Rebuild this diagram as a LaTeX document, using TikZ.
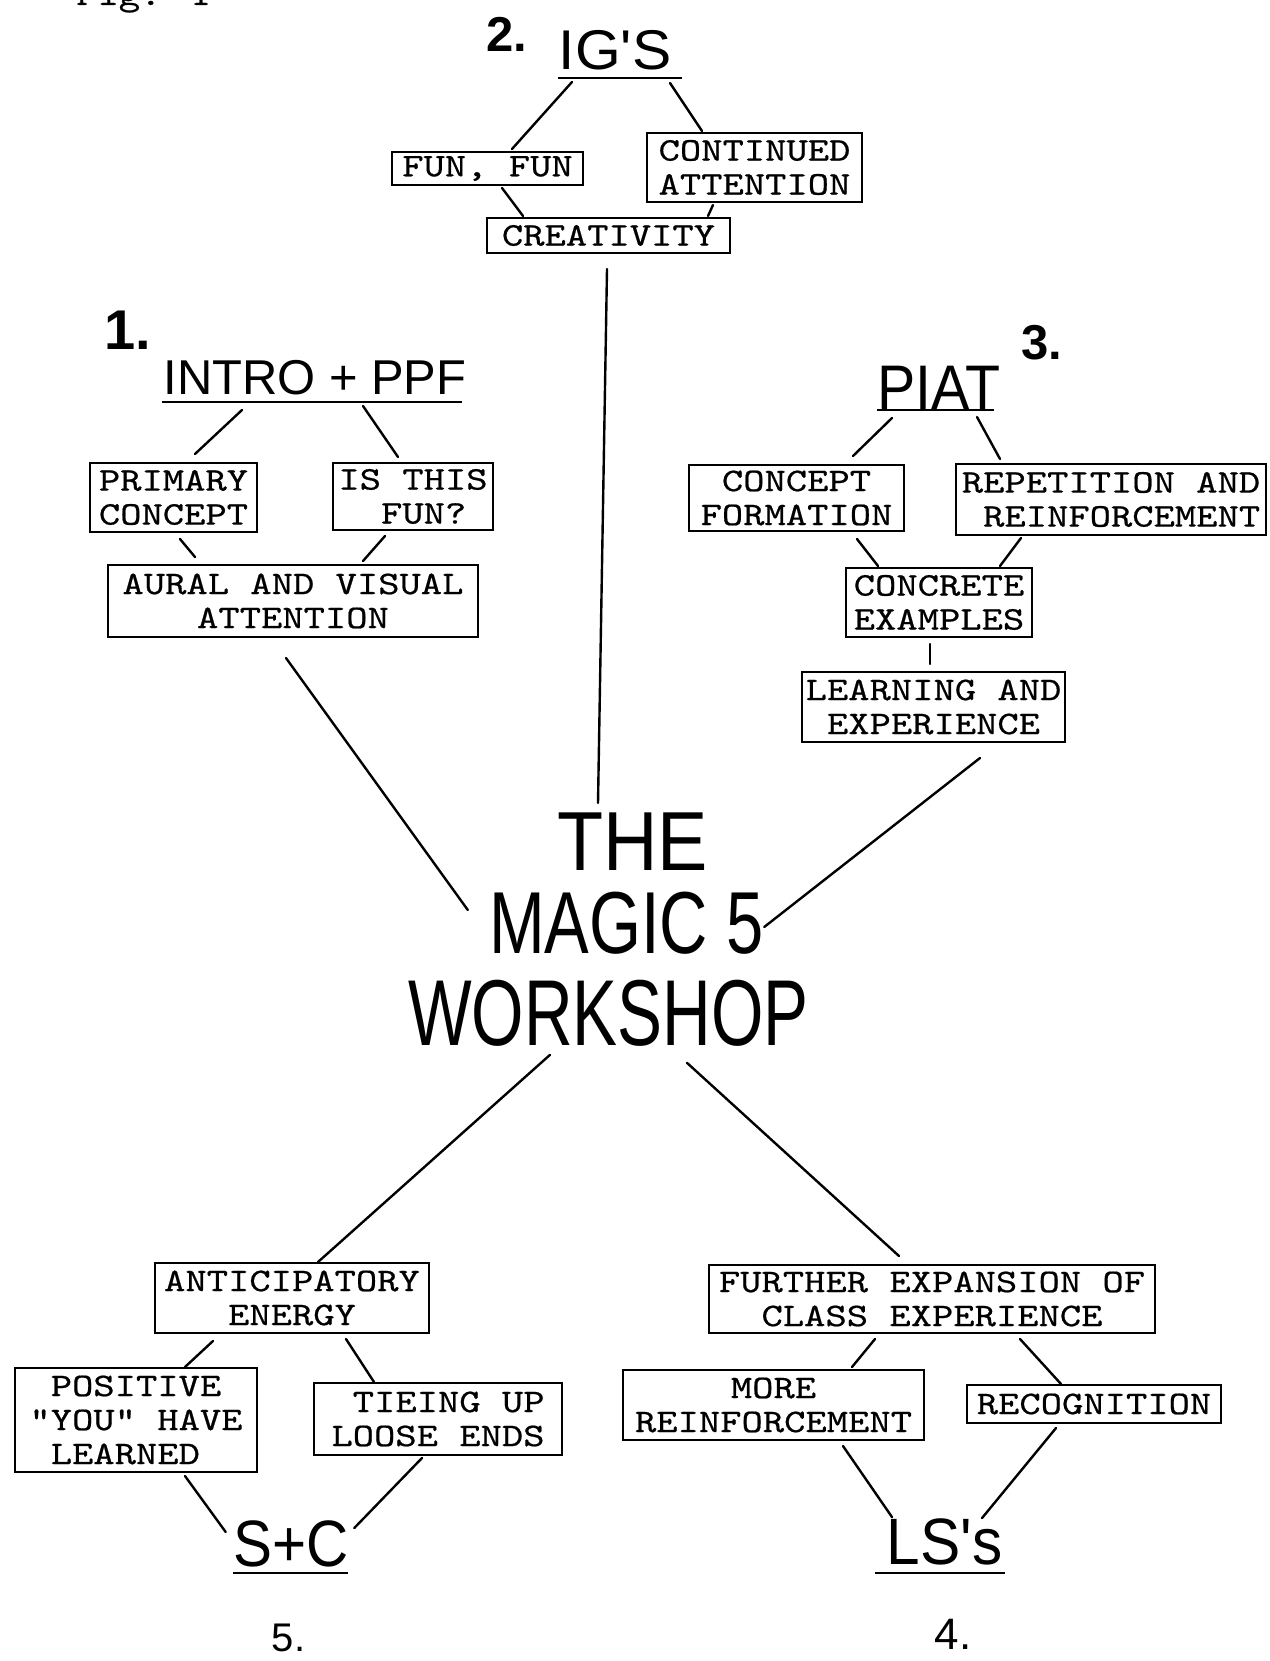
\documentclass[tikz,border=0pt]{standalone}
\usepackage{fontspec}
\usepackage{graphicx}
\usetikzlibrary{calc}
\newfontfamily\tw{lmmono10-regular}[Extension=.otf, FakeStretch=1.23, FakeBold=0.6]
\newfontfamily\hand{Liberation Sans}
\newcommand\hw[3]{{\fontsize{#1}{#1}\hand\scalebox{#2}[1]{#3}}}
\newcommand\hwb[3]{{\fontsize{#1}{#1}\hand\bfseries\scalebox{#2}[1]{#3}}}
\tikzset{
  tbox/.style={draw, line width=2pt, inner sep=0pt, align=center, font=\fontsize{33}{34}\tw},
  conn/.style={line width=2.4pt, line cap=round},
  bar/.style={line width=2.6pt},
  title/.style={inner sep=0pt, anchor=center},
}
\begin{document}
\begin{tikzpicture}[x=1pt,y=-1pt]
\useasboundingbox[fill=white] (0,0) rectangle (1269,1661);

% figure caption (cut at top, as in the reference)
\node[anchor=base west, inner sep=0pt, font=\fontsize{33}{34}\tw] (fig) at (76,5) {Fig. 1};

% ---------- section 2 ----------
\node[title] (n2) at (506.5,34.5) {\hwb{49}{1}{2.}};
\node[title] (ig) at (615,50) {\hw{56}{1.05}{IG'S}};
\coordinate (igL) at (558,78);
\coordinate (igR) at (682,78);
\draw[bar] (igL) -- (igR);
\node[tbox, minimum width=191pt, minimum height=33pt] (funfun) at (487.5,168.5) {FUN, FUN};
\node[tbox, minimum width=215pt, minimum height=69pt] (contatt) at (754.5,167.5) {CONTINUED\\ATTENTION};
\node[tbox, minimum width=243pt, minimum height=35pt] (creat) at (608.5,235.5) {CREATIVITY};
\draw[conn] ($(igL)+(14,4)$) -- ($(funfun.north)+(24.5,-2)$);
\draw[conn] ($(igR)+(-12,5)$) -- ($(contatt.north)+(-52.5,-1)$);
\draw[conn] ($(funfun.south)+(14.5,2)$) -- ($(creat.north)+(-85.5,-1)$);
\draw[conn] ($(contatt.south)+(-41.5,2)$) -- ($(creat.north)+(99.5,-1)$);

% ---------- section 1 ----------
\node[title] (n1) at (127.5,330) {\hwb{56}{1}{1.}};
\node[title] (intro) at (315,377.5) {\hw{48.9}{1}{INTRO + PPF}};
\coordinate (introL) at (162,402);
\coordinate (introR) at (462,402);
\draw[bar] (introL) -- (introR);
\node[tbox, minimum width=167pt, minimum height=69pt] (primary) at (173.5,497.5) {PRIMARY\\CONCEPT};
\node[tbox, minimum width=160pt, minimum height=67pt, align=left] (isthis) at (413,496.5) {IS THIS\\\hphantom{IS}FUN?};
\node[tbox, minimum width=370pt, minimum height=72pt] (aural) at (293,601) {AURAL AND VISUAL\\ATTENTION};
\draw[conn] ($(introL)+(80,8)$) -- ($(primary.north)+(21.5,-8)$);
\draw[conn] ($(introL)+(201,4)$) -- ($(isthis.north)+(-15,-5)$);
\draw[conn] ($(primary.south)+(6.5,6)$) -- ($(aural.north)+(-98,-7)$);
\draw[conn] ($(isthis.south)+(-28,5)$) -- ($(aural.north)+(70,-3)$);

% ---------- section 3 ----------
\node[title] (n3) at (1041.5,342.5) {\hwb{49}{1}{3.}};
\node[title] (piat) at (939,388) {\hw{63}{0.91}{PIAT}};
\coordinate (piatL) at (877,410);
\coordinate (piatR) at (994,410);
\draw[bar] (piatL) -- (piatR);
\node[tbox, minimum width=215pt, minimum height=66pt] (concept) at (796.5,498) {CONCEPT\\FORMATION};
\node[tbox, minimum width=310pt, minimum height=71pt, align=left] (repet) at (1111,499.5) {REPETITION AND\\\hphantom{R}REINFORCEMENT};
\node[tbox, minimum width=186pt, minimum height=69pt] (concrete) at (939,602.5) {CONCRETE\\EXAMPLES};
\node[tbox, minimum width=263pt, minimum height=70pt] (learning) at (933.5,707) {LEARNING AND\\EXPERIENCE};
\draw[conn] ($(piatL)+(15,8)$) -- ($(concept.north)+(56.5,-8)$);
\draw[conn] ($(piatR)+(-17,7)$) -- ($(repet.north)+(-111,-4)$);
\draw[conn] ($(concept.south)+(60.5,7)$) -- ($(concrete.north)+(-61,-1)$);
\draw[conn] ($(repet.south)+(-90,2)$) -- ($(concrete.north)+(61,-1)$);
\draw[conn] ($(concrete.south)+(-9,6)$) -- ($(learning.north)+(-3.5,-7)$);

% ---------- centre ----------
\node[title] (the) at (632.5,842) {\hw{83.8}{0.9}{THE}};
\node[title] (magic) at (626.5,923.5) {\hw{88}{0.76}{MAGIC 5}};
\node[title] (workshop) at (608.5,1013.5) {\hw{93.6}{0.72}{WORKSHOP}};
\draw[conn] ($(creat.south)+(-1.5,15)$) -- ($(the.north)+(-34.5,-10)$);
\draw[conn] ($(aural.south)+(-7,20)$) -- ($(magic.west)+(-21,-13.5)$);
\draw[conn] ($(learning.south)+(46.5,15)$) -- ($(magic.east)+(0,3.5)$);

% ---------- section 5 ----------
\node[tbox, minimum width=274pt, minimum height=70pt] (anticip) at (292,1298) {ANTICIPATORY\\ENERGY};
\node[tbox, minimum width=242pt, minimum height=104pt, align=left] (positive) at (136,1420) {\hphantom{"}POSITIVE\\"YOU" HAVE\\\hphantom{"}LEARNED};
\node[tbox, minimum width=248pt, minimum height=72pt, align=right] (tieing) at (438,1419) {TIEING UP\\LOOSE ENDS};
\node[title] (sc) at (291.5,1543.5) {\hw{65.6}{0.89}{S+C}};
\draw[bar] (233,1573) coordinate (scL) -- (348,1573) coordinate (scR);
\node[title] (n5) at (288.5,1638) {\hw{40}{1}{5.}};
\draw[conn] ($(workshop.south)+(-58.5,8)$) -- ($(anticip.north)+(26,0)$);
\draw[conn] ($(anticip.south)+(-79,7)$) -- ($(positive.north)+(49,0)$);
\draw[conn] ($(anticip.south)+(54,5)$) -- ($(tieing.north)+(-64,0)$);
\draw[conn] ($(positive.south)+(49,3)$) -- ($(sc.west)+(-8,-11.5)$);
\draw[conn] ($(tieing.south)+(-16,2)$) -- ($(sc.east)+(5,-15.5)$);

% ---------- section 4 ----------
\node[tbox, minimum width=446pt, minimum height=68pt] (further) at (932,1299) {FURTHER EXPANSION OF\\CLASS EXPERIENCE};
\node[tbox, minimum width=301pt, minimum height=70pt] (more) at (773.5,1405) {MORE\\REINFORCEMENT};
\node[tbox, minimum width=254pt, minimum height=38pt] (recog) at (1094,1404) {RECOGNITION};
\node[title] (ls) at (944.5,1541.5) {\hw{65.6}{0.92}{LS's}};
\draw[bar] (875,1573) coordinate (lsL) -- (1005,1573) coordinate (lsR);
\node[title] (n4) at (953,1634) {\hw{44}{1}{4.}};
\draw[conn] ($(workshop.south)+(78.5,16)$) -- ($(further.north)+(-33,-8)$);
\draw[conn] ($(further.south)+(-57,5)$) -- ($(more.north)+(78.5,-2)$);
\draw[conn] ($(further.south)+(88,5)$) -- ($(recog.north)+(-33,0)$);
\draw[conn] ($(more.south)+(69.5,5)$) -- ($(ls.north)+(-52.5,-1)$);
\draw[conn] ($(recog.south)+(-38,4)$) -- ($(ls.north)+(37.5,0)$);
\end{tikzpicture}
\end{document}
